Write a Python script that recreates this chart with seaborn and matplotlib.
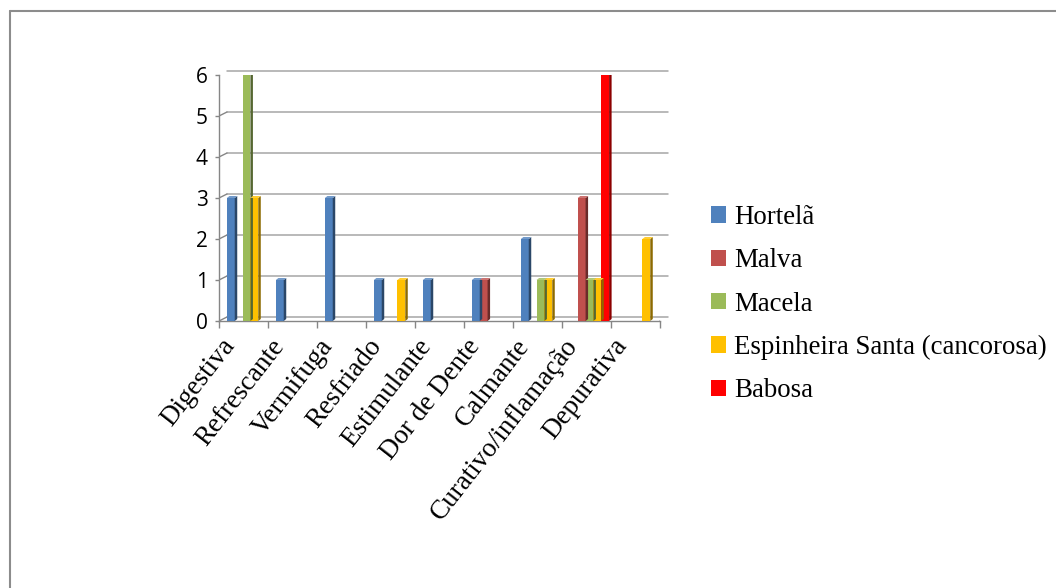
import numpy as np
import pandas as pd
import matplotlib
matplotlib.use("Agg")
import matplotlib.pyplot as plt
import matplotlib.colors as mcolors
from matplotlib.lines import Line2D
from matplotlib.patches import Polygon
from matplotlib.transforms import IdentityTransform, offset_copy, ScaledTranslation
import seaborn as sns

# Uses of each medicinal plant (number of citations)
usos = ["Digestiva", "Refrescante", "Vermifuga", "Resfriado", "Estimulante",
        "Dor de Dente", "Calmante", "Curativo/inflamação", "Depurativa"]
plantas = ["Hortelã", "Malva", "Macela", "Espinheira Santa (cancorosa)", "Babosa"]
hortela = [3, 1, 3, 1, 1, 1, 2, 0, 0]
malva = [0, 0, 0, 0, 0, 1, 0, 3, 0]
macela = [6, 0, 0, 0, 0, 0, 1, 1, 0]
espinheira = [3, 0, 0, 1, 0, 0, 1, 1, 2]
babosa = [0, 0, 0, 0, 0, 0, 0, 6, 0]
cores = ["#4F81BD", "#C0504D", "#9BBB59", "#FFC000", "#FF0000"]
yticks = [0, 1, 2, 3, 4, 5, 6]

series = [hortela, malva, macela, espinheira, babosa]
df = pd.DataFrame(
    [(u, p, v) for p, vals in zip(plantas, series) for u, v in zip(usos, vals)],
    columns=["uso", "planta", "valor"],
)

sns.set_style("white")
plt.rcParams["font.family"] = ["DejaVu Sans"]
plt.rcParams["text.color"] = "black"
plt.rcParams["xtick.labelcolor"] = "black"
plt.rcParams["ytick.labelcolor"] = "black"

W, H = 1056, 588
fig = plt.figure(figsize=(W / 100, H / 100), dpi=100)
ax = fig.add_axes([219 / W, 1 - 321 / H, (660 - 219) / W, (321 - 75) / H])

sns.barplot(data=df, x="uso", y="valor", hue="planta", palette=cores,
            hue_order=plantas, order=usos, width=0.8, saturation=1,
            linewidth=0, ax=ax, legend=True, zorder=3)

ax.set_xlim(-0.5, len(usos) - 0.5)
ax.set_ylim(0, 6)
ax.set_xlabel("")
ax.set_ylabel("")
ax.grid(False)

# Depth offset of the back wall, in pixels
DX, DY = 8, 4
grid_col = "#a6a6a6"
axis_col = "#868686"
back = offset_copy(ax.transData, fig=fig, x=DX, y=DY, units="dots")
x0, x1 = ax.get_xlim()
for yv in yticks:
    ax.plot([x0, x1], [yv, yv], color=grid_col, lw=1.1, transform=back,
            clip_on=False, zorder=1)
    px, py = ax.transData.transform((x0, yv))
    ax.add_line(Line2D([px, px + DX], [py, py + DY], color=axis_col, lw=1.0,
                       transform=IdentityTransform(), zorder=1))
px, py = ax.transData.transform((x1, 0))
ax.add_line(Line2D([px, px + DX], [py, py + DY], color=axis_col, lw=1.0,
                   transform=IdentityTransform(), zorder=1))

for s in ["top", "right"]:
    ax.spines[s].set_visible(False)
for s in ["left", "bottom"]:
    ax.spines[s].set_color(axis_col)
    ax.spines[s].set_linewidth(1.0)

# Bars sit slightly into the depth; shade their side and top faces
fig.canvas.draw()
unit_px = ax.transData.transform((1, 0))[0] - ax.transData.transform((0, 0))[0]
shift = 3.0 / unit_px
sd, td = 2.5, 2.0
for patch in ax.patches:
    h = patch.get_height()
    if not h or h <= 0:
        continue
    patch.set_x(patch.get_x() + shift)
    bx, by = patch.get_x(), patch.get_y()
    bw = patch.get_width()
    (lx, ly), (rx, ry) = ax.transData.transform([(bx, by), (bx + bw, by + h)])
    base = np.array(mcolors.to_rgb(patch.get_facecolor()))
    side = Polygon([(rx, ly), (rx + sd, ly + td), (rx + sd, ry + td), (rx, ry)],
                   closed=True, facecolor=base * 0.55, edgecolor="none",
                   transform=IdentityTransform(), zorder=3)
    top = Polygon([(lx, ry), (lx + sd, ry + td), (rx + sd, ry + td), (rx, ry)],
                  closed=True, facecolor=base * 0.8 + 0.2 * np.ones(3),
                  edgecolor="none", transform=IdentityTransform(), zorder=3)
    ax.add_patch(side)
    ax.add_patch(top)

# Ticks: values on y, category boundaries on x
ax.set_yticks(yticks)
ax.set_yticklabels([str(v) for v in yticks], fontsize=15, family="Open Sans",
                   color="black")
ax.tick_params(axis="y", which="major", length=3, width=1, color=axis_col,
               direction="out", pad=5, left=True)
ax.set_xticks(np.arange(len(usos)))
ax.set_xticks(np.arange(-0.5, len(usos)), minor=True)
ax.tick_params(axis="x", which="major", length=0, pad=15)
ax.tick_params(axis="x", which="minor", length=5, width=1, color=axis_col,
               direction="out", bottom=True)
ax.set_xticklabels(usos, rotation=52, ha="right", va="center",
                   rotation_mode="anchor", fontsize=19.5,
                   family="Liberation Serif", color="black")
nudge = ScaledTranslation(-13 / 100, 0, fig.dpi_scale_trans)
for lab in ax.get_xticklabels():
    lab.set_transform(lab.get_transform() + nudge)

# Legend to the right of the plot
handles, labels = ax.get_legend_handles_labels()
ax.legend_.remove()
leg = fig.legend(handles, labels, loc="upper left",
                 bbox_to_anchor=(711 / W, 1 - 205 / H), frameon=False,
                 prop={"family": "Liberation Serif", "size": 19.4},
                 handlelength=0.57, handleheight=0.57, handletextpad=0.3,
                 labelspacing=0.68, borderpad=0, borderaxespad=0)
for t in leg.get_texts():
    t.set_color("black")

# Outer chart frame
frame_col = "#8c8c8c"
fig.add_artist(Line2D([9.5 / W, 1], [1 - 10.5 / H, 1 - 10.5 / H],
                      color=frame_col, lw=1.5, transform=fig.transFigure))
fig.add_artist(Line2D([9.5 / W, 9.5 / W], [0, 1 - 10.5 / H],
                      color=frame_col, lw=1.5, transform=fig.transFigure))

fig.savefig("out.png", dpi=100, facecolor="white")
